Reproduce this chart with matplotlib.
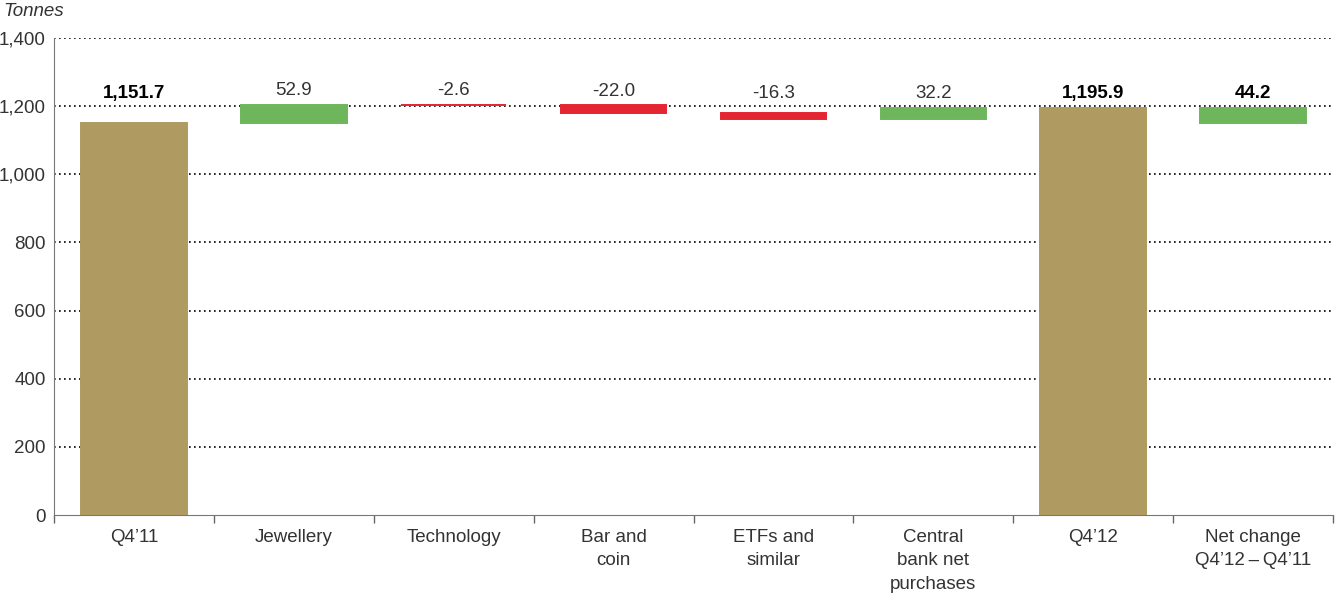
import numpy as np
import matplotlib
matplotlib.use('Agg')
import matplotlib.pyplot as plt

# Данные
categories = ["Q4\u201911", "Jewellery", "Technology", "Bar and\ncoin", "ETFs and\nsimilar",
              "Central\nbank net\npurchases", "Q4\u201912", "Net change\nQ4\u201912\u2009\u2013\u2009Q4\u201911"]
start_total = 1151.7
changes = [52.9, -2.6, -22.0, -16.3, 32.2]
end_total = 1195.9
net_change = 44.2

GOLD = '#AF9A62'
GREEN = '#6DB65B'
RED = '#E42532'
TXT = '#333333'

plt.rcParams['font.family'] = ['Liberation Sans', 'DejaVu Sans']

bottoms, heights, colors, labels, bold = [], [], [], [], []
bottoms.append(0); heights.append(start_total); colors.append(GOLD)
labels.append(f"{start_total:,.1f}"); bold.append(True)
level = start_total
for c in changes:
    bottoms.append(min(level, level + c)); heights.append(abs(c))
    colors.append(GREEN if c > 0 else RED)
    labels.append(f"{c:.1f}"); bold.append(False)
    level += c
bottoms.append(0); heights.append(end_total); colors.append(GOLD)
labels.append(f"{end_total:,.1f}"); bold.append(True)
bottoms.append(start_total); heights.append(net_change); colors.append(GREEN)
labels.append(f"{net_change:.1f}"); bold.append(True)

fig = plt.figure(figsize=(13.35, 5.97), dpi=100)
ax = fig.add_axes([54/1335, 1-515/597, (1333-54)/1335, (515-38)/597])

x = np.arange(len(categories))
ax.bar(x, heights, bottom=bottoms, width=0.66, color=colors,
       edgecolor=colors, linewidth=1.4, zorder=3)

for xi, b, h, lab, bo in zip(x, bottoms, heights, labels, bold):
    top = b + h
    ax.text(xi, max(top, end_total) + 40, lab, ha='center', va='center',
            fontsize=13.5, color='black' if bo else TXT,
            fontweight='bold' if bo else 'normal')

ax.set_xlim(-0.5, len(categories) - 0.5)
ax.set_ylim(0, 1400)
ax.set_yticks(np.arange(0, 1401, 200))
ax.set_yticklabels([f"{v:,}" for v in range(0, 1401, 200)], fontsize=13.5, color=TXT)
ax.tick_params(axis='y', length=0, pad=6)

ax.set_xticks(x)
ax.set_xticklabels(categories, fontsize=13.5, color=TXT, linespacing=1.5)
ax.set_xticks(np.arange(-0.5, len(categories)), minor=True)
ax.tick_params(axis='x', which='major', length=0, pad=10)
ax.tick_params(axis='x', which='minor', length=6, color='#666666', width=1)

for v in range(200, 1401, 200):
    ax.axhline(v, color='black', linestyle=(0, (1, 2)), linewidth=1.2, zorder=1)

for s in ['top', 'right']:
    ax.spines[s].set_visible(False)
ax.spines['left'].set_color('#777777')
ax.spines['bottom'].set_color('#777777')

fig.text(3/1335, 1-12/597, 'Tonnes', fontsize=13.5, style='italic', color=TXT, va='center')

plt.savefig('out.png', dpi=100)
